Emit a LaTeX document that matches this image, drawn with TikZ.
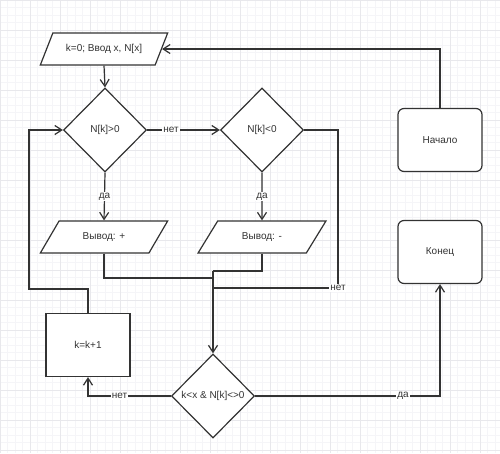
\documentclass[tikz,border=0pt]{standalone}
\usepackage{fontspec}
\setmainfont{Liberation Sans}
\usetikzlibrary{shapes.geometric,arrows.meta}
\definecolor{ink}{HTML}{333333}
\definecolor{gridmin}{HTML}{F5F5F8}
\definecolor{gridmaj}{HTML}{E8E8EC}
\begin{document}
\begin{tikzpicture}[x=1pt, y=-1pt, line width=1.2pt, draw=ink,
    every node/.style={font=\fontsize{10}{12}\selectfont, text=ink},
    para/.style={trapezium, trapezium left angle=45, trapezium right angle=135, trapezium stretches=true, draw, fill=white, minimum width=128pt, minimum height=32pt, inner sep=0pt},
    rhomb/.style={diamond, draw, fill=white, aspect=1, minimum width=83pt, minimum height=84pt, inner sep=0pt},
    blk/.style={rectangle, draw, fill=white, minimum width=84pt, minimum height=63pt},
    term/.style={blk, rounded corners=6pt},
    lbl/.style={fill=white, inner sep=1pt},
    arr/.style={-{Straight Barb[length=7pt, width=9pt]}}]
      \useasboundingbox (0,0) rectangle (500,453);
      \fill[white] (0,0) rectangle (500,453);
      \draw[gridmin, line width=0.5pt, step=7.5pt] (0,0) grid (500,453);
      \draw[gridmaj, line width=0.5pt, step=30pt] (0,0) grid (500,453);

      \node[para] (in) at (104,49){k=0; Ввод x, N[x]};
      \node[rhomb] (d1) at (105,130){N[k]>0};
      \node[rhomb] (d2) at (262,130){N[k]<0};
      \node[para] (out1) at (104,237){Вывод: +};
      \node[para] (out2) at (262,237){Вывод: -};
      \node[rhomb] (d3) at (213,396){k<x \& N[k]<>0};
      \node[blk] (kk) at (88,345){k=k+1};
      \node[term] (nach) at (440,140){Начало};
      \node[term] (kon) at (440,252){Конец};
      \node[lbl] (no2) at (338,288){нет};
      \coordinate (j1) at (213,278);
      \coordinate (j2) at (213,271);
      \coordinate (j3) at (213,288);
      \coordinate (lp) at (29,289);

      \draw[arr] (nach.north) |- (in.east);
      \draw[arr] (in.south) -- (d1.north);
      \draw[arr] (d1.east) -- node[lbl, pos=0.33]{нет} (d2.west);
      \draw[arr] (d1.south) -- node[lbl]{да} (out1.north);
      \draw[arr] (d2.south) -- node[lbl]{да} (out2.north);
      \draw (out1.south) |- (j1);
      \draw (out2.south) |- (j2);
      \draw (d2.east) -| (no2);
      \draw (no2) -- (j3);
      \draw[arr] (j2) -- (d3.north);
      \draw[arr] (d3.east) -| node[lbl, pos=0.4]{да} (kon.south);
      \draw[arr] (d3.west) -| node[lbl, pos=0.31]{нет} (kk.south);
      \draw[arr] (kk.north) |- (lp) |- (d1.west);

    \end{tikzpicture}
\end{document}
